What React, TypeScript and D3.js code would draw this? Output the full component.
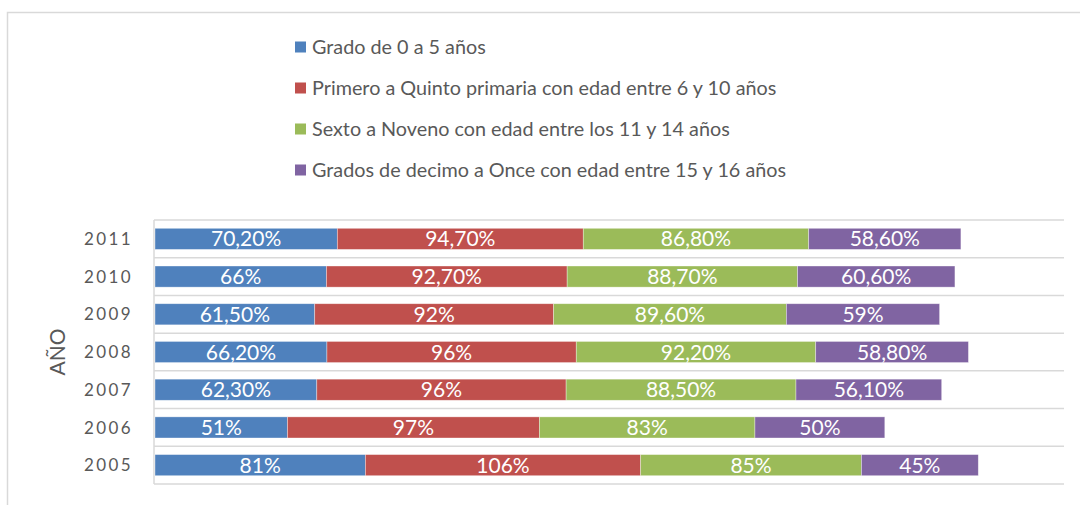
import React from "react";
import * as d3 from "d3";

const years = ["2011", "2010", "2009", "2008", "2007", "2006", "2005"];
const seriesNames = [
  "Grado de 0 a 5 años",
  "Primero a Quinto primaria con edad entre 6 y 10 años",
  "Sexto a Noveno con edad entre los 11 y 14 años",
  "Grados de decimo a Once con edad entre 15 y 16 años",
];
const grado0a5 = [70.2, 66, 61.5, 66.2, 62.3, 51, 81];
const primeroQuinto = [94.7, 92.7, 92, 96, 96, 97, 106];
const sextoNoveno = [86.8, 88.7, 89.6, 92.2, 88.5, 83, 85];
const decimoOnce = [58.6, 60.6, 59, 58.8, 56.1, 50, 45];
const colors = ["#4F81BD", "#C0504D", "#9BBB59", "#8064A2"];
const xMax = 350;

const fmt = (v: number) =>
  Number.isInteger(v) ? `${v}%` : v.toFixed(2).replace(".", ",") + "%";

export default function App() {
  const W = 1080,
    H = 505;
  const left = 155,
    right = 1064,
    top = 220,
    bottom = 484;
  const x = d3.scaleLinear().domain([0, xMax]).range([left, right]);
  const y = d3.scaleBand().domain(years).range([top, bottom]).paddingInner(0.44).paddingOuter(0.22);
  const rows = years.map((yr, i) => ({
    year: yr,
    vals: [grado0a5[i], primeroQuinto[i], sextoNoveno[i], decimoOnce[i]],
  }));
  const stackKeys = [0, 1, 2, 3];
  const stack = d3
    .stack<any, number>()
    .keys(stackKeys as any)
    .value((d: any, k: any) => d.vals[k]);
  const series = stack(rows as any);
  const band = (bottom - top) / years.length;
  const font = "Lato, 'Open Sans', sans-serif";

  return (
    <svg
      width={W}
      height={H}
      style={{ position: "absolute", left: 0, top: 0, background: "#fff" }}
    >
      <rect x={7.5} y={12.5} width={1100} height={520} fill="#fff" stroke="#D9D9D9" strokeWidth={1.5} />
      {/* legend */}
      {seriesNames.map((n, i) => (
        <g key={n} transform={`translate(295, ${47 + i * 41})`}>
          <rect x={0} y={-5.5} width={11} height={11} fill={colors[i]} />
          <text x={17} y={0} dy="0.35em" fontFamily={font} fontSize={19.8} fill="#595959">
            {n}
          </text>
        </g>
      ))}
      {/* gridlines */}
      {d3.range(years.length + 1).map((i) => (
        <line
          key={i}
          x1={left - 1}
          x2={right}
          y1={top + i * band}
          y2={top + i * band}
          stroke="#D9D9D9"
          strokeWidth={1.5}
        />
      ))}
      <line x1={left - 1} x2={left - 1} y1={top} y2={bottom} stroke="#D9D9D9" strokeWidth={1.5} />
      {/* bars */}
      {series.map((s, si) =>
        s.map((d: any, di: number) => {
          const yr = years[di];
          const x0 = x(d[0]);
          const x1 = x(d[1]);
          const yy = y(yr)!;
          return (
            <g key={`${si}-${di}`}>
              <rect
                x={x0}
                y={yy}
                width={x1 - x0}
                height={y.bandwidth()}
                fill={colors[si]}
                stroke="#fff"
                strokeOpacity={0.5}
                strokeWidth={0.7}
              />
              <text
                x={(x0 + x1) / 2}
                y={yy + y.bandwidth() / 2}
                dy="0.36em"
                textAnchor="middle"
                fontFamily={font}
                fontSize={21}
                fill="#fff"
              >
                {fmt(rows[di].vals[si])}
              </text>
            </g>
          );
        })
      )}
      {/* year labels */}
      {years.map((yr) => (
        <text
          key={yr}
          x={133}
          y={y(yr)! + y.bandwidth() / 2}
          dy="0.36em"
          textAnchor="end"
          fontFamily={font}
          fontSize={17}
          letterSpacing={2.4}
          fill="#595959"
        >
          {yr}
        </text>
      ))}
      <text
        transform={`translate(65, 352) rotate(-90)`}
        textAnchor="middle"
        fontFamily={font}
        fontSize={21}
        fill="#595959"
      >
        AÑO
      </text>
    </svg>
  );
}
